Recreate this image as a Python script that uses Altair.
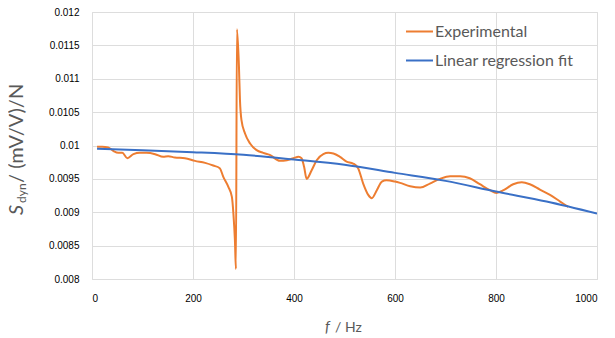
import altair as alt
import pandas as pd

# Experimental data (frequency in Hz, sensitivity in (mV/V)/N)
exp_f = [10, 20, 32, 42, 52, 60, 70, 82, 95, 108, 125, 141, 151, 164, 184, 204, 224, 240,
         253, 260, 270, 277, 280, 283, 285, 287, 291, 293, 296, 303, 313, 326, 339, 352,
         372, 386, 399, 409, 415, 420, 425, 435, 445, 458, 468, 478, 491, 504, 517, 527,
         537, 547, 554, 564, 574, 583, 600, 610, 630, 650, 669, 689, 709, 729, 748, 768,
         788, 801, 815, 834, 851, 867, 887, 907, 927, 943]
exp_s = [0.00998, 0.00998, 0.00997, 0.00992, 0.00989, 0.00989, 0.00981, 0.00987, 0.00989,
         0.00989, 0.00987, 0.00983, 0.00984, 0.00982, 0.00981, 0.00977, 0.00974, 0.00970,
         0.00966, 0.00953, 0.00938, 0.00923, 0.00898, 0.00858, 0.00815, 0.01174, 0.01118,
         0.01068, 0.01038, 0.01018, 0.01003, 0.00993, 0.00989, 0.00986, 0.00977, 0.00978,
         0.00981, 0.00983, 0.00981, 0.00968, 0.00950, 0.00963, 0.00978, 0.00987, 0.00989,
         0.00988, 0.00983, 0.00976, 0.00973, 0.00966, 0.00943, 0.00926, 0.00921, 0.00933,
         0.00946, 0.00948, 0.00946, 0.00944, 0.00939, 0.00937, 0.00943, 0.00950, 0.00954,
         0.00954, 0.00951, 0.00942, 0.00933, 0.00929, 0.00933, 0.00942, 0.00945, 0.00942,
         0.00934, 0.00926, 0.00916, 0.00908]

# Regression fit
fit_f = [10, 100, 200, 300, 400, 500, 600, 700, 800, 900, 1000]
fit_s = [0.00995, 0.00993, 0.00990, 0.00986, 0.00979, 0.00971, 0.00959, 0.00947, 0.00931,
         0.00916, 0.00898]

series_names = ["Experimental", "Linear regression fit"]
series_colors = ["#ED7D31", "#3A70C6"]

df = pd.concat([
    pd.DataFrame({"f": exp_f, "s": exp_s, "series": series_names[0], "o": 0}),
    pd.DataFrame({"f": fit_f, "s": fit_s, "series": series_names[1], "o": 1}),
])

FONT = "Lato"
GREY = "#595959"

lines = alt.Chart(df).mark_line(strokeWidth=2, interpolate="monotone", clip=True).encode(
    x=alt.X("f:Q", scale=alt.Scale(domain=[0, 1000], nice=False),
            axis=alt.Axis(values=[0, 200, 400, 600, 800, 1000], format="d", title=None, grid=True,
                          domain=False, ticks=False, labelPadding=14)),
    y=alt.Y("s:Q", scale=alt.Scale(domain=[0.008, 0.012], nice=False, zero=False),
            axis=alt.Axis(values=[0.008, 0.0085, 0.009, 0.0095, 0.01, 0.0105, 0.011, 0.0115, 0.012],
                          labelExpr="format(datum.value, '.4~f')", title=None, grid=True,
                          domain=False, ticks=False, labelPadding=13)),
    color=alt.Color("series:N", scale=alt.Scale(domain=series_names, range=series_colors),
                    legend=alt.Legend(title=None, orient="none", legendX=313, legendY=5,
                                      symbolType="stroke", symbolSize=729, symbolStrokeWidth=2,
                                      labelFontSize=16, labelColor=GREY, labelFont=FONT,
                                      labelOffset=1, rowPadding=6, padding=0)),
    detail="series:N",
    order="o:Q",
)

# y-axis title pieces: italic S, subscript dyn, rest
y_s = alt.Chart(pd.DataFrame({"t": ["S"]})).mark_text(
    angle=270, align="left", baseline="alphabetic",
    fontSize=20, fontStyle="italic", font=FONT, color=GREY).encode(
    text="t:N", x=alt.value(-69), y=alt.value(203))
y_sub = alt.Chart(pd.DataFrame({"t": ["dyn"]})).mark_text(
    angle=270, align="left", baseline="alphabetic",
    fontSize=12, font=FONT, color=GREY).encode(
    text="t:N", x=alt.value(-66), y=alt.value(191))
y_rest = alt.Chart(pd.DataFrame({"t": ["/ (mV/V)/N"]})).mark_text(
    angle=270, align="left", baseline="alphabetic",
    fontSize=20, font=FONT, color=GREY).encode(
    text="t:N", x=alt.value(-69), y=alt.value(171))

x_f = alt.Chart(pd.DataFrame({"t": ["f"]})).mark_text(
    align="left", baseline="alphabetic",
    fontSize=15, fontStyle="italic", font=FONT, color=GREY).encode(
    text="t:N", x=alt.value(233), y=alt.value(320))
x_rest = alt.Chart(pd.DataFrame({"t": ["/ Hz"]})).mark_text(
    align="left", baseline="alphabetic",
    fontSize=14, font=FONT, color=GREY).encode(
    text="t:N", x=alt.value(243), y=alt.value(320))

chart = alt.layer(lines, y_s, y_sub, y_rest, x_f, x_rest).properties(
    width=505, height=267,
    autosize=alt.AutoSizeParams(type="none"),
    padding={"left": 84, "top": 4, "right": 10, "bottom": 58},
).configure_axis(
    gridColor="#d9d9d9", gridWidth=1, labelColor=GREY, labelFont=FONT, labelFontSize=13,
).configure_view(stroke="#d9d9d9", strokeWidth=1).configure(background="white")

chart.save("out.html", embed_options={"renderer": "svg", "actions": False})
